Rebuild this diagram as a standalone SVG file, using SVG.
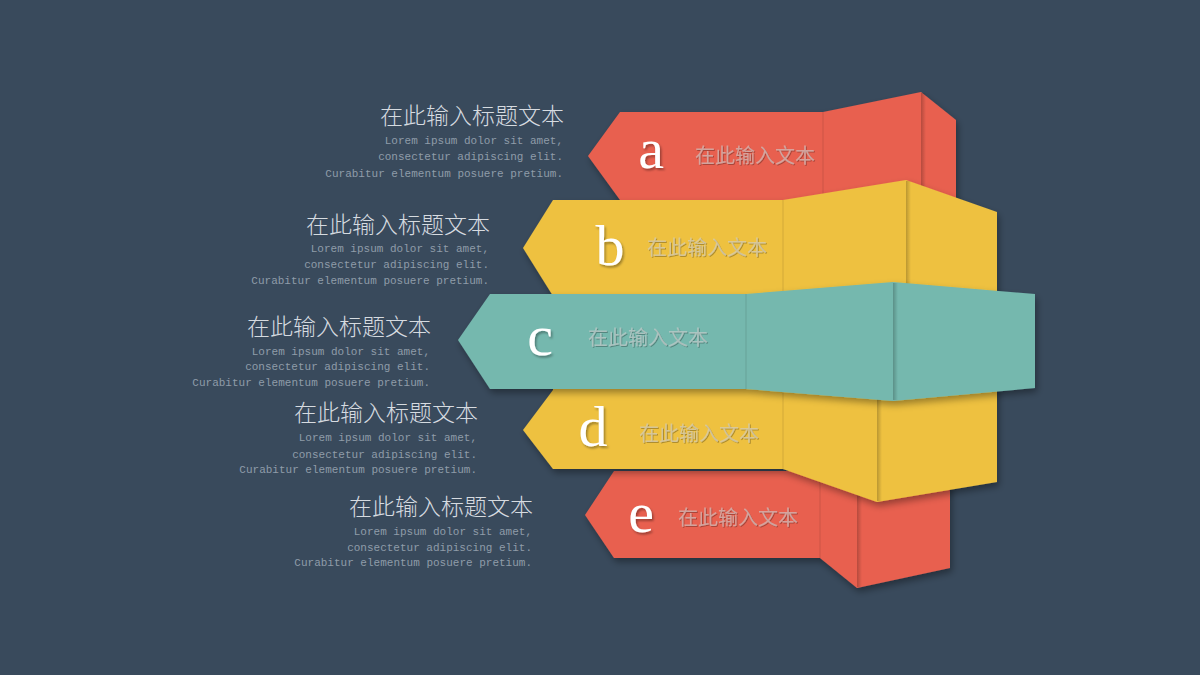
<svg xmlns="http://www.w3.org/2000/svg" width="1200" height="675" viewBox="0 0 1200 675">
<defs>
<style>
.red{fill:#E8604F}
.yel{fill:#EEC141}
.tea{fill:#75B8AE}
.fold{stroke:#000;stroke-opacity:0.10;stroke-width:1.2;fill:none}
.sfold{fill:url(#fg)}
.let{font-family:"Liberation Serif","DejaVu Serif",serif;font-size:58px;fill:#FFFFFF;text-anchor:middle;filter:url(#lsh)}
.lab{font-family:"Noto Sans CJK SC",sans-serif;font-size:20px;fill:#CFCFCF;fill-opacity:0.6;filter:url(#emb)}
.ttl{font-family:"Noto Sans CJK SC",sans-serif;font-weight:300;font-size:23px;fill:#D6DBE0;text-anchor:end}
.txt{font-family:"Liberation Mono","DejaVu Sans Mono",monospace;font-size:11px;fill:#8F9CA9;text-anchor:end}
</style>
<linearGradient id="fg" x1="0" y1="0" x2="1" y2="0">
<stop offset="0" stop-color="#000" stop-opacity="0.22"/>
<stop offset="1" stop-color="#000" stop-opacity="0"/>
</linearGradient>
<filter id="sh" x="-10%" y="-20%" width="125%" height="150%">
<feDropShadow dx="2" dy="4" stdDeviation="3.5" flood-color="#000" flood-opacity="0.35"/>
</filter>
<filter id="lsh" x="-20%" y="-20%" width="150%" height="150%">
<feDropShadow dx="1.5" dy="2" stdDeviation="1.2" flood-color="#000" flood-opacity="0.35"/>
</filter>
<filter id="emb" x="-10%" y="-20%" width="120%" height="150%">
<feDropShadow dx="1" dy="1" stdDeviation="0.6" flood-color="#000" flood-opacity="0.45"/>
</filter>
</defs>
<rect x="0" y="0" width="1200" height="675" fill="#394A5C"/>

<g id="ribbon-a">
<polygon class="red" filter="url(#sh)" points="588,156 620,112 823,112 921,92 956,120 956,240 640,240 620,200"/>
<line class="fold" x1="823" y1="112" x2="823" y2="200"/>
<rect class="sfold" x="921" y="93" width="5" height="110"/>
<text class="let" x="651" y="168">a</text>
<text class="lab" x="695" y="163">在此输入文本</text>
</g>

<g id="ribbon-b">
<polygon class="yel" filter="url(#sh)" points="523,248 553,200 783,200 906,180 997,212 997,330 580,330 553,296"/>
<line class="fold" x1="783" y1="200" x2="783" y2="295"/>
<rect class="sfold" x="906" y="181" width="5" height="110"/>
<text class="let" x="610" y="265">b</text>
<text class="lab" x="647" y="255">在此输入文本</text>
</g>

<g id="ribbon-e">
<polygon class="red" filter="url(#sh)" points="585,515 614,471 950,471 950,568 857,588 820,558 614,558"/>
<line class="fold" x1="820" y1="480" x2="820" y2="558"/>
<rect class="sfold" x="857" y="488" width="5" height="99"/>
<text class="let" x="641" y="532">e</text>
<text class="lab" x="678" y="525">在此输入文本</text>
</g>

<g id="ribbon-d">
<polygon class="yel" filter="url(#sh)" points="523,430 553,390 553,380 997,380 997,482 877,502 783,469 553,469"/>
<line class="fold" x1="783" y1="389" x2="783" y2="469"/>
<rect class="sfold" x="877" y="398" width="5" height="103"/>
<text class="let" x="593" y="446">d</text>
<text class="lab" x="639" y="441">在此输入文本</text>
</g>

<g id="ribbon-c">
<polygon class="tea" filter="url(#sh)" points="458,340 490,294 746,294 893,282 1035,294 1035,388 893,401 746,389 490,389"/>
<line class="fold" x1="746" y1="294" x2="746" y2="389"/>
<rect class="sfold" x="893" y="283" width="5" height="117"/>
<text class="let" x="540" y="355">c</text>
<text class="lab" x="588" y="345">在此输入文本</text>
</g>

<g id="text-1">
<text class="ttl" x="564" y="124">在此输入标题文本</text>
<text class="txt" x="563" y="144">Lorem ipsum dolor sit amet,</text>
<text class="txt" x="563" y="160">consectetur adipiscing elit.</text>
<text class="txt" x="563" y="177">Curabitur elementum posuere pretium.</text>
</g>
<g id="text-2">
<text class="ttl" x="490" y="233">在此输入标题文本</text>
<text class="txt" x="489" y="252">Lorem ipsum dolor sit amet,</text>
<text class="txt" x="489" y="268">consectetur adipiscing elit.</text>
<text class="txt" x="489" y="284">Curabitur elementum posuere pretium.</text>
</g>
<g id="text-3">
<text class="ttl" x="431" y="335">在此输入标题文本</text>
<text class="txt" x="430" y="355">Lorem ipsum dolor sit amet,</text>
<text class="txt" x="430" y="370">consectetur adipiscing elit.</text>
<text class="txt" x="430" y="386">Curabitur elementum posuere pretium.</text>
</g>
<g id="text-4">
<text class="ttl" x="478" y="421">在此输入标题文本</text>
<text class="txt" x="477" y="441">Lorem ipsum dolor sit amet,</text>
<text class="txt" x="477" y="458">consectetur adipiscing elit.</text>
<text class="txt" x="477" y="473">Curabitur elementum posuere pretium.</text>
</g>
<g id="text-5">
<text class="ttl" x="533" y="515">在此输入标题文本</text>
<text class="txt" x="532" y="535">Lorem ipsum dolor sit amet,</text>
<text class="txt" x="532" y="551">consectetur adipiscing elit.</text>
<text class="txt" x="532" y="566">Curabitur elementum posuere pretium.</text>
</g>
<g id="connectors"/>
</svg>
